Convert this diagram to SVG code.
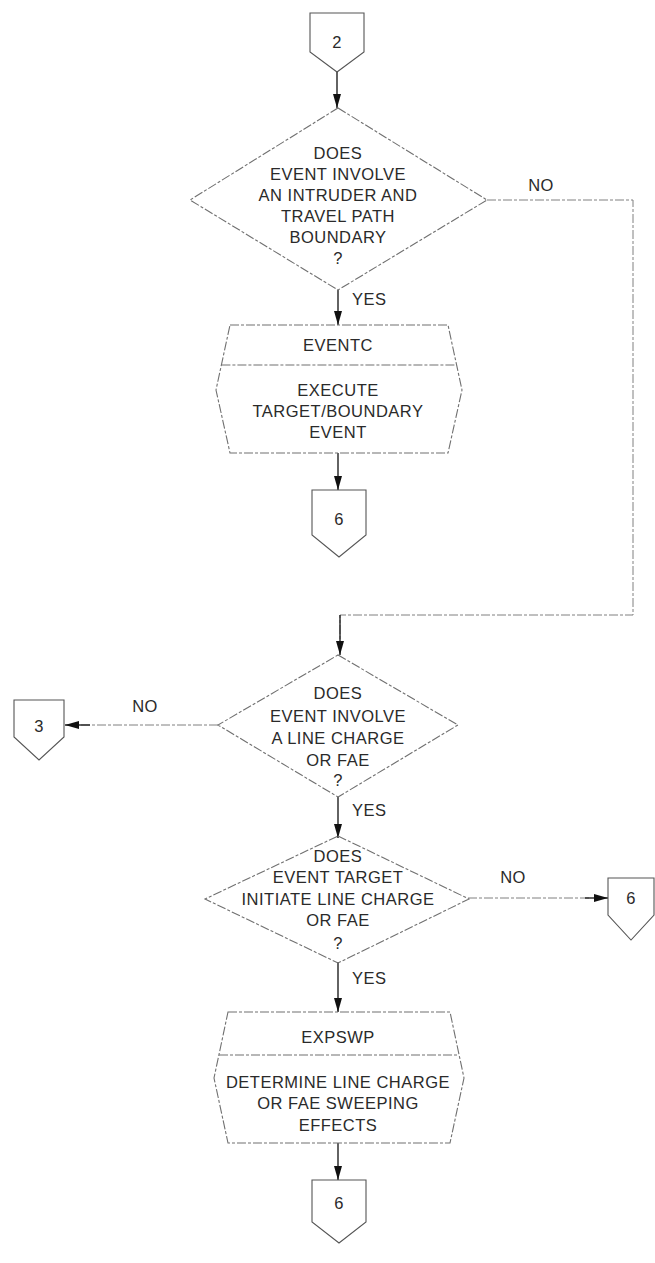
<svg xmlns="http://www.w3.org/2000/svg" width="655" height="1263" viewBox="0 0 655 1263">
  <style>
    .shape { fill: none; stroke: #707070; stroke-width: 1.1; stroke-dasharray: 9 2 3 2; }
    .conn { fill: none; stroke: #555; stroke-width: 1.1; }
    .line { fill: none; stroke: #808080; stroke-width: 1; stroke-dasharray: 9 2 3 2; }
    .shaft { fill: none; stroke: #222; stroke-width: 1.4; }
    text { font-family: "Liberation Sans", Arial, sans-serif; font-size: 16.5px; fill: #2a2a2a; text-anchor: middle; letter-spacing: 0.5px; }
    .lbl { text-anchor: start; }
  </style>
  <defs>
    <marker id="arrow" viewBox="0 0 14 8" refX="14" refY="4" markerWidth="14" markerHeight="8" markerUnits="userSpaceOnUse" orient="auto">
      <path d="M0,0 L14,4 L0,8 Z" fill="#111"/>
    </marker>
  </defs>
  <rect width="655" height="1263" fill="#ffffff"/>

  <!-- flow lines and their labels -->
  <g id="connectors">
    <path class="shaft" d="M337,72 V108" marker-end="url(#arrow)"/>
    <path class="shaft" d="M338,290 V325" marker-end="url(#arrow)"/>
    <path class="shaft" d="M338,453 V490" marker-end="url(#arrow)"/>
    <path class="line" d="M487,200 H633 V615 H340 V640"/>
    <path class="shaft" d="M340,615 V655" marker-end="url(#arrow)"/>
    <path class="line" d="M218,725 H80"/>
    <path class="shaft" d="M90,725 H65" marker-end="url(#arrow)"/>
    <path class="shaft" d="M338,797 V838" marker-end="url(#arrow)"/>
    <path class="line" d="M468,898 H590"/>
    <path class="shaft" d="M585,898 H608" marker-end="url(#arrow)"/>
    <path class="shaft" d="M338,962 V1012" marker-end="url(#arrow)"/>
    <path class="shaft" d="M338,1143 V1180" marker-end="url(#arrow)"/>
    <text x="541" y="191">NO</text>
    <text class="lbl" x="352" y="305">YES</text>
    <text x="145" y="712">NO</text>
    <text class="lbl" x="352" y="816">YES</text>
    <text x="513" y="883">NO</text>
    <text class="lbl" x="352" y="984">YES</text>
  </g>

  <g id="conn-2">
    <path class="conn" d="M310,13 H364 V52 L337,72 L310,52 Z"/>
    <text x="337" y="48">2</text>
  </g>

  <g id="dec-intruder">
    <path class="shape" d="M338,108 L487,200 L338,290 L190,200 Z"/>
    <text x="338" y="159">DOES</text>
    <text x="338" y="180">EVENT INVOLVE</text>
    <text x="338" y="201">AN INTRUDER AND</text>
    <text x="338" y="222">TRAVEL PATH</text>
    <text x="338" y="243">BOUNDARY</text>
    <text x="338" y="264">?</text>
  </g>

  <g id="proc-eventc">
    <path class="shape" d="M230,325 H448 L462,390 L448,453 H230 L216,390 Z"/>
    <path class="shape" d="M221.4,365 H456.6"/>
    <text x="338" y="351">EVENTC</text>
    <text x="338" y="396">EXECUTE</text>
    <text x="338" y="417">TARGET/BOUNDARY</text>
    <text x="338" y="438">EVENT</text>
  </g>

  <g id="conn-6a">
    <path class="conn" d="M312,490 H366 V535 L339,557 L312,535 Z"/>
    <text x="339" y="525">6</text>
  </g>

  <g id="dec-linecharge">
    <path class="shape" d="M338,655 L458,725 L338,797 L218,725 Z"/>
    <text x="338" y="699">DOES</text>
    <text x="338" y="722">EVENT INVOLVE</text>
    <text x="338" y="744">A LINE CHARGE</text>
    <text x="338" y="766">OR FAE</text>
    <text x="338" y="786">?</text>
  </g>

  <g id="conn-3">
    <path class="conn" d="M14,700 H64 V737 L39,760 L14,737 Z"/>
    <text x="39" y="732">3</text>
  </g>

  <g id="dec-initiate">
    <path class="shape" d="M338,836 L469,899 L338,963 L205,899 Z"/>
    <text x="338" y="862">DOES</text>
    <text x="338" y="883">EVENT TARGET</text>
    <text x="338" y="905">INITIATE LINE CHARGE</text>
    <text x="338" y="926">OR FAE</text>
    <text x="338" y="949">?</text>
  </g>

  <g id="conn-6b">
    <path class="conn" d="M608,878 H654 V915 L631,940 L608,915 Z"/>
    <text x="631" y="904">6</text>
  </g>

  <g id="proc-expswp">
    <path class="shape" d="M228,1012 H450 L464,1078 L450,1143 H228 L214,1078 Z"/>
    <path class="shape" d="M219,1055 H459"/>
    <text x="338" y="1043">EXPSWP</text>
    <text x="338" y="1088">DETERMINE LINE CHARGE</text>
    <text x="338" y="1109">OR FAE SWEEPING</text>
    <text x="338" y="1131">EFFECTS</text>
  </g>

  <g id="conn-6c">
    <path class="conn" d="M312,1180 H366 V1222 L339,1243 L312,1222 Z"/>
    <text x="339" y="1209">6</text>
  </g>
</svg>
